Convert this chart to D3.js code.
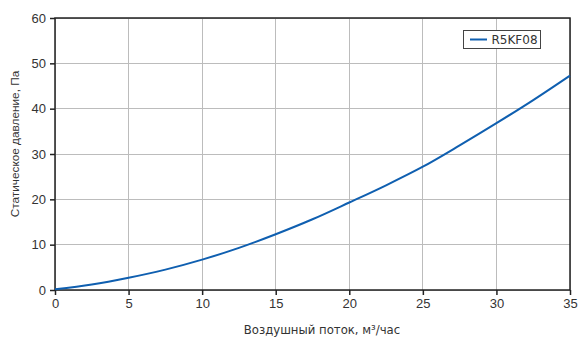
<!DOCTYPE html>
<html><head><meta charset="utf-8">
<script src="https://cdn.jsdelivr.net/npm/d3@7/dist/d3.min.js"></script>
<style>body{margin:0;background:#fff}svg{display:block}</style>
</head><body>
<svg id="c" width="579" height="341"></svg>
<script>
const flow = [0,2.5,5,7.5,10,12.5,15,17.5,20,22.5,25,27.5,30,32.5,35];
const pressure = [0.15,1.2,2.7,4.5,6.7,9.3,12.3,15.6,19.3,23.1,27.2,31.9,36.8,41.9,47.3];
const seriesName = "R5KF08";
const xTicks = [0,5,10,15,20,25,30,35];
const yTicks = [0,10,20,30,40,50,60];
const xTitle = "Воздушный поток, м³/час";
const yTitle = "Статическое давление, Па";

const svg = d3.select("#c");
const m = {l:55, r:9, t:18, b:51};
const W = 579, H = 341;
const x = d3.scaleLinear().domain([0,35]).range([m.l, W-m.r]);
const y = d3.scaleLinear().domain([0,60]).range([H-m.b, m.t]);

// grid
svg.append("g").selectAll("line").data(xTicks).join("line")
  .attr("x1",d=>x(d)).attr("x2",d=>x(d)).attr("y1",y(0)).attr("y2",y(60))
  .attr("stroke","#bcbcbc").attr("stroke-width",1).attr("shape-rendering","crispEdges");
svg.append("g").selectAll("line").data(yTicks).join("line")
  .attr("y1",d=>y(d)).attr("y2",d=>y(d)).attr("x1",x(0)).attr("x2",x(35))
  .attr("stroke","#bcbcbc").attr("stroke-width",1).attr("shape-rendering","crispEdges");

// axes
const xa = svg.append("g").attr("transform",`translate(0,${y(0)})`)
  .call(d3.axisBottom(x).tickValues(xTicks).tickSize(5).tickPadding(4).tickSizeOuter(0));
const ya = svg.append("g").attr("transform",`translate(${x(0)},0)`)
  .call(d3.axisLeft(y).tickValues(yTicks).tickSize(5).tickPadding(4).tickSizeOuter(0));
[xa,ya].forEach(a=>{
  a.select(".domain").remove();
  a.selectAll("line").attr("stroke","#222").attr("stroke-width",1.5);
  a.selectAll("text").attr("fill","#333").style("font-family","'Liberation Sans', Arial, sans-serif").style("font-size","13px");
});

// frame
svg.append("rect").attr("x",x(0)).attr("y",y(60)).attr("width",x(35)-x(0)).attr("height",y(0)-y(60))
  .attr("fill","none").attr("stroke","#222").attr("stroke-width",1.5);

// line
const line = d3.line().x((d,i)=>x(flow[i])).y(d=>y(d)).curve(d3.curveMonotoneX);
svg.append("path").datum(pressure).attr("d",line).attr("fill","none")
  .attr("stroke","#0f5fb0").attr("stroke-width",2);

// legend
const lg = svg.append("g");
lg.append("rect").attr("x",463.5).attr("y",30.5).attr("width",77).attr("height",18)
  .attr("fill","#fff").attr("stroke","#444").attr("stroke-width",1);
lg.append("line").attr("x1",470).attr("x2",487).attr("y1",39.5).attr("y2",39.5)
  .attr("stroke","#0f5fb0").attr("stroke-width",2);
lg.append("text").attr("x",491.5).attr("y",44).text(seriesName)
  .attr("fill","#333").style("font-family","'DejaVu Sans', Verdana, sans-serif").style("font-size","12px");

// titles
svg.append("text").attr("x",322).attr("y",334).attr("text-anchor","middle")
  .text(xTitle).attr("fill","#333").style("font-family","'DejaVu Sans', Verdana, sans-serif").style("font-size","11.7px");
svg.append("text").attr("transform",`translate(19,144) rotate(-90)`).attr("text-anchor","middle")
  .text(yTitle).attr("fill","#333").style("font-family","'Liberation Sans', Arial, sans-serif").style("font-size","11.8px");
</script>
</body></html>
